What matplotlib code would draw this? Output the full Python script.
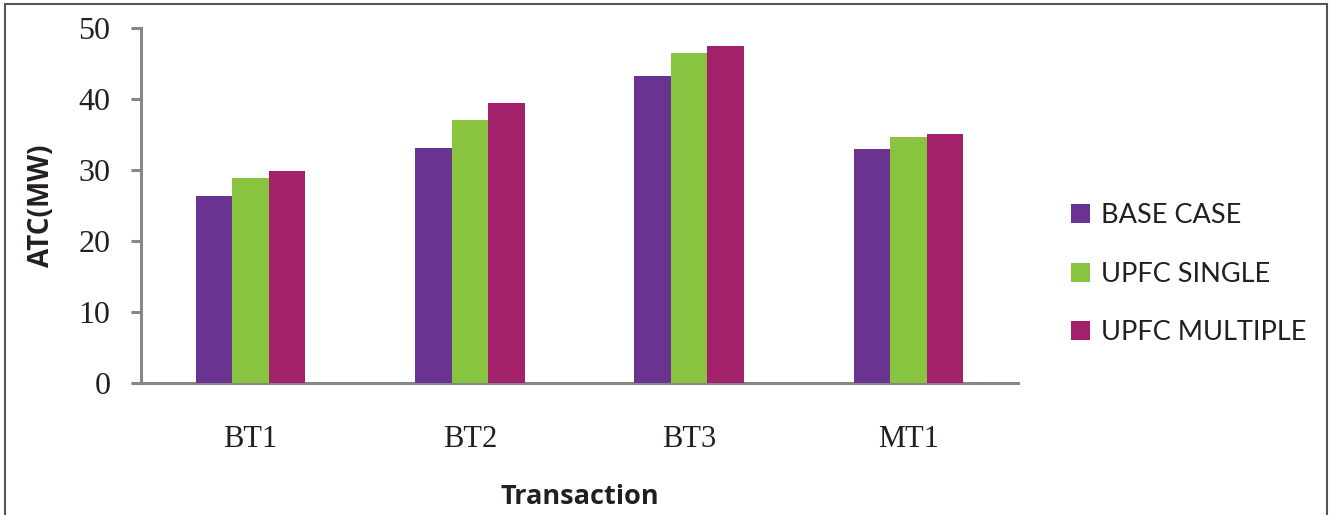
import numpy as np
import matplotlib.pyplot as plt
from matplotlib.patches import Rectangle

transactions = ["BT1", "BT2", "BT3", "MT1"]
base_case = [26.4, 33.1, 43.2, 32.9]
upfc_single = [28.9, 37.0, 46.5, 34.6]
upfc_multiple = [29.9, 39.4, 47.5, 35.1]

series_names = ["BASE CASE", "UPFC SINGLE", "UPFC MULTIPLE"]
colors = ["#69338F", "#88C440", "#A3206A"]

fig = plt.figure(figsize=(13.3, 5.15), dpi=100)
ax = fig.add_axes([141/1330, 1-383/515, (1018-141)/1330, (383-28)/515])

x = np.arange(len(transactions))
w = 0.5/3
for i, vals in enumerate([base_case, upfc_single, upfc_multiple]):
    ax.bar(x + (i-1)*w, vals, width=w, color=colors[i], label=series_names[i], zorder=3)

ax.set_xlim(-0.5, len(transactions)-0.5)
ax.set_ylim(0, 50)
ax.set_yticks([0, 10, 20, 30, 40, 50])
ax.set_xticks(x)
ax.set_xticklabels(transactions)

spine_col = "#878787"
for s in ["top", "right"]:
    ax.spines[s].set_visible(False)
for s in ["left", "bottom"]:
    ax.spines[s].set_color(spine_col)
    ax.spines[s].set_linewidth(2.2)
ax.tick_params(axis="y", direction="out", length=7, width=2.2, color=spine_col, pad=15)
ax.tick_params(axis="x", length=0, pad=30)
for lab in ax.get_yticklabels():
    lab.set_fontfamily("Liberation Serif")
    lab.set_fontsize(23)
    lab.set_color("#231F20")
for lab in ax.get_xticklabels():
    lab.set_fontfamily("Liberation Serif")
    lab.set_fontsize(22)
    lab.set_color("#231F20")

ax.set_ylabel("ATC(MW)", fontfamily="Open Sans", fontweight="bold", fontsize=20, color="#231F20", labelpad=16)
fig.text(580/1330, 1-497/515, "Transaction", ha="center", va="center",
         fontfamily="Open Sans", fontweight="bold", fontsize=19.5, color="#231F20")

leg = fig.legend(loc="center left", bbox_to_anchor=(1047/1330, 1-274/515), frameon=False,
                 prop={"family": "Lato", "size": 19.5}, handlelength=0.7, handleheight=0.7,
                 handletextpad=0.4, labelspacing=1.25)
for t in leg.get_texts():
    t.set_color("#231F20")

fig.patches.append(Rectangle((5/1330, -0.1), (1327-5)/1330, 1-4/515+0.1, transform=fig.transFigure,
                             fill=False, edgecolor="#555555", linewidth=1.5, clip_on=False))

fig.savefig("out.png", dpi=100)
